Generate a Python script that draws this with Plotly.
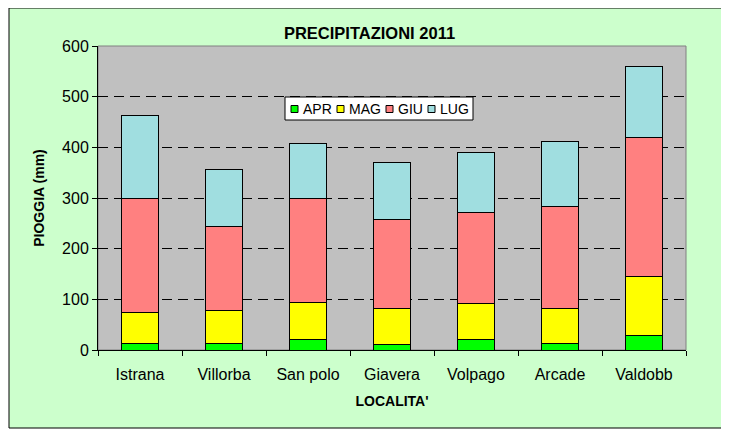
import plotly.graph_objects as go

# --- data ---
localita = ["Istrana", "Villorba", "San polo", "Giavera", "Volpago", "Arcade", "Valdobb"]
apr = [12, 12, 21, 10, 21, 12, 29]
mag = [63, 65, 72, 71, 70, 69, 116]
giu = [225, 166, 207, 176, 180, 203, 274]
lug = [163, 114, 107, 114, 119, 127, 140]

mesi = ["APR", "MAG", "GIU", "LUG"]
valori = [apr, mag, giu, lug]
colori = ["#00FF00", "#FFFF00", "#FF8080", "#A0DEE0"]

# the page body adds 8px of margin, so the figure is 8px smaller than the window
OFF = 8
W, H = 729 - OFF, 430 - OFF
L, T = 90, 38
pw, ph = 588, 304
R, B = W - L - pw, H - T - ph


def px_x(page_px):
    return (page_px - OFF - L) / pw


def px_y(page_py):
    return (T + ph - (page_py - OFF)) / ph


font = "Liberation Sans, Arial, sans-serif"

fig = go.Figure()
for name, values, color in zip(mesi, valori, colori):
    fig.add_bar(
        x=localita,
        y=values,
        name=name,
        marker=dict(color=color, line=dict(color="black", width=1)),
        showlegend=False,
    )

# outer light-green frame and grey plot area
fig.add_shape(
    type="rect", xref="paper", yref="paper",
    x0=px_x(9), x1=px_x(724), y0=px_y(428), y1=px_y(8),
    fillcolor="#CCFFCC", line=dict(color="black", width=1), layer="below",
)
fig.add_shape(
    type="rect", xref="paper", yref="paper",
    x0=0, x1=1, y0=0, y1=1,
    fillcolor="#C0C0C0", line=dict(color="#808080", width=1), layer="below",
)

# legend box in the style of the original (compact entries)
fig.add_shape(
    type="rect", xref="paper", yref="paper",
    x0=px_x(285), x1=px_x(473), y0=px_y(120), y1=px_y(97),
    fillcolor="white", line=dict(color="black", width=1),
)
legend_left = [291, 337, 386, 428]
for name, color, lx in zip(mesi, colori, legend_left):
    fig.add_shape(
        type="rect", xref="paper", yref="paper",
        x0=px_x(lx), x1=px_x(lx + 7), y0=px_y(112.5), y1=px_y(105.5),
        fillcolor=color, line=dict(color="black", width=1),
    )
    fig.add_annotation(
        text=name, xref="paper", yref="paper",
        x=px_x(lx + 11), y=px_y(109), xanchor="left", yanchor="middle",
        showarrow=False, font=dict(size=14), borderpad=0,
    )

fig.update_layout(
    width=W,
    height=H,
    barmode="stack",
    bargap=0.57,
    paper_bgcolor="white",
    plot_bgcolor="rgba(0,0,0,0)",
    margin=dict(l=L, r=R, t=T, b=B, autoexpand=False),
    font=dict(family=font, size=16, color="black"),
    title=dict(
        text="<b>PRECIPITAZIONI 2011</b>",
        x=(369.5 - OFF) / W, xref="container", xanchor="center",
        y=1 - (33 - OFF) / H, yref="container", yanchor="middle",
        font=dict(size=16.5, family=font),
    ),
    showlegend=False,
)
fig.update_xaxes(
    type="category",
    tickson="boundaries",
    ticks="outside",
    ticklen=5,
    tickcolor="black",
    tickfont=dict(size=16),
    ticklabelstandoff=10,
    showline=True,
    linecolor="black",
    showgrid=False,
    automargin=False,
    title=dict(text="<b>LOCALITA'</b>", font=dict(size=14), standoff=13),
)
fig.update_yaxes(
    range=[0, 600],
    dtick=100,
    ticks="outside",
    ticklen=5,
    tickcolor="black",
    tickfont=dict(size=16),
    showline=True,
    linecolor="black",
    showgrid=True,
    gridcolor="black",
    griddash="10px,6px",
    gridwidth=1,
    zeroline=False,
    automargin=False,
    title=dict(text="<b>PIOGGIA (mm)</b>", font=dict(size=14), standoff=14),
)

fig.write_html("out.html")
